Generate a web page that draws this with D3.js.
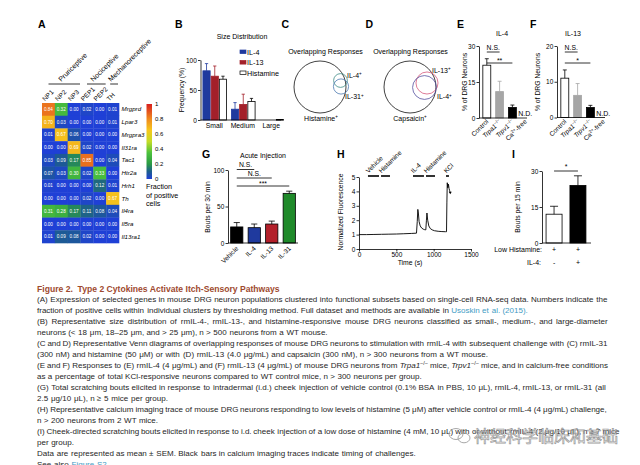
<!DOCTYPE html>
<html><head><meta charset="utf-8">
<script src="https://cdn.jsdelivr.net/npm/d3@7/dist/d3.min.js"></script>
<style>html,body{margin:0;padding:0;background:#fff;overflow:hidden}svg{display:block}</style>
</head><body><svg id="fig" width="640" height="465"></svg>
<script>
// ================= DATA =================
// Panel A heatmap
const hmClusters = ["NP1","NP2","NP3","PEP1","PEP2","TH"];
const hmGenes = ["Mrgprd","Lpar3","Mrgpra3","Il31ra","Tac1","Htr2a","Hrh1","Th","Il4ra","Il5ra","Il13ra1"];
const hmValues = [
  [0.84,0.32,0.00,0.02,0.00,0.01],
  [0.70,0.03,0.00,0.00,0.00,0.01],
  [0.01,0.67,0.06,0.00,0.00,0.00],
  [0.00,0.00,0.69,0.02,0.00,0.00],
  [0.03,0.09,0.17,0.85,0.00,0.04],
  [0.07,0.03,0.30,0.02,0.33,0.00],
  [0.01,0.00,0.00,0.00,0.12,0.01],
  [0.00,0.00,0.00,0.02,0.00,0.67],
  [0.31,0.28,0.17,0.11,0.08,0.04],
  [0.00,0.00,0.00,0.00,0.00,0.00],
  [0.01,0.09,0.08,0.02,0.00,0.00]
];
const hmGroupNames = ["Pruriceptive","Nociceptive","Mechanoreceptive"];
const hmGroupFirst = ["NP1","PEP1","TH"];
const hmGroupLast = ["NP3","PEP2","TH"];
const hmLegendTicks = [0,0.2,0.4,0.6,0.8,1];

// Panel B size distribution (%)
const sizeGroups = ["Small","Medium","Large"];
const sizeSeries = ["IL-4","IL-13","Histamine"];
const sizeIL4 = [82,18,0];
const sizeIL4Err = [12,11,0];
const sizeIL13 = [73,26,0];
const sizeIL13Err = [17,17,0];
const sizeHist = [68,31,1];
const sizeHistErr = [5,5,0];
const sizeTicks = [0,50,100];

// Panels C, D Venn (relative set sizes)
const vennCSets = ["Histamine","IL-4","IL-31"];
const vennCSizes = [100,7,8.5];
const vennDSets = ["Capsaicin","IL-13","IL-4"];
const vennDSizes = [100,18,21];

// Panels E, F responses (% of DRG neurons)
const respCats = ["Control","Trpa1","Trpv1","Ca-free"];
const il4Resp = [22,11,4.4,null];
const il4RespErr = [2.7,4.3,1.0,null];
const il13Resp = [11,6.2,2.8,null];
const il13RespErr = [2.3,3.3,0.6,null];
const il4Ticks = [0,15,30];
const il13Ticks = [0,10,20];

// Panel G acute injection
const injCats = ["Vehicle","IL-4","IL-13","IL-31"];
const injBouts = [22,21,26,68];
const injErr = [6,5,4,3];
const injTicks = [0,50,100];

// Panel H calcium trace
const traceTime = [0,100,200,300,400,500,600,700,770,780,788,795,805,820,840,860,880,895,903,910,920,935,955,980,1010,1060,1110,1160,1172,1177,1182,1190,1198,1206,1214,1222];
const traceF    = [1.0,1.0,1.01,1.02,1.03,1.04,1.06,1.08,1.1,1.9,2.75,2.5,1.9,1.6,1.45,1.38,1.34,1.33,2.0,2.5,2.0,1.6,1.42,1.33,1.27,1.23,1.21,1.2,1.2,3.2,4.6,4.25,4.5,4.2,4.05,3.9];
const challengeNames = ["Vehicle","Histamine","IL-4","Histamine","KCl"];
const challengeStart = [120,295,723,897,1165];
const challengeEnd   = [268,415,870,1018,1205];
const timeTicks = [0,500,1000,1500];
const fluoTicks = [0,1,2,3,4,5];

// Panel I
const histCats = ["Vehicle","IL-4"];
const histBouts = [12,24];
const histErr = [3.3,4];
const histTicks = [0,15,30];
const lowHistSign = ["+","+"];
const il4Sign = ["-","+"];

// ================= DRAWING =================
const FONT = "'Liberation Sans', Arial, Helvetica, sans-serif";
const svg = d3.select("#fig").attr("font-family", FONT);
svg.append("rect").attr("width",640).attr("height",465).attr("fill","#fff");

function txt(g, x, y, s, o={}) {
  const t = g.append("text").attr("x",x).attr("y",y).text(s)
    .attr("font-size", o.size||6.5).attr("fill", o.fill||"#000")
    .attr("text-anchor", o.anchor||"start");
  if (o.weight) t.attr("font-weight", o.weight);
  if (o.style) t.attr("font-style", o.style);
  if (o.rotate!=null) t.attr("transform", `rotate(${o.rotate},${x},${y})`);
  return t;
}
function styleAxis(a, size) {
  a.attr("font-family", FONT).attr("font-size", size||6.5);
  a.select(".domain").attr("stroke","#000").attr("stroke-width",0.8);
  a.selectAll(".tick line").attr("stroke","#000").attr("stroke-width",0.8);
  a.selectAll(".tick text").attr("fill","#000");
}
function leftAxis(g, scale, x, ticks, size) {
  const a = g.append("g").attr("transform",`translate(${x},0)`)
    .call(d3.axisLeft(scale).tickValues(ticks).tickFormat(d3.format("~g")).tickSize(2.5).tickSizeOuter(0).tickPadding(1.2));
  styleAxis(a,size); return a;
}
function hline(g, x1, x2, y, w, c) {
  g.append("line").attr("x1",x1).attr("x2",x2).attr("y1",y).attr("y2",y)
   .attr("stroke",c||"#000").attr("stroke-width",w||0.8);
}
function errBar(g, cx, y0, y1, capW, color) {
  g.append("line").attr("x1",cx).attr("x2",cx).attr("y1",y0).attr("y2",y1).attr("stroke",color).attr("stroke-width",0.8);
  hline(g, cx-capW/2, cx+capW/2, y1, 0.8, color);
}
function letter(x,y,t){ txt(svg,x,y,t,{size:10.5,weight:"bold"}); }
letter(38,27.5,"A"); letter(175,27.5,"B"); letter(281.5,27.5,"C"); letter(365.5,27.5,"D");
letter(457,27.5,"E"); letter(530,27.5,"F"); letter(202,158,"G"); letter(337,158,"H"); letter(512,158,"I");

// ---------- Panel A ----------
const gA = svg.append("g");
const hx = d3.scaleBand().domain(hmClusters).range([42,119]);
const hy = d3.scaleBand().domain(hmGenes).range([103,243]);
const hColor = d3.scaleLinear()
  .domain([0,0.1,0.2,0.35,0.5,0.65,0.8,1])
  .range(["#1f40d6","#1d5d8e","#2a9a45","#4cc23c","#c4dc28","#f6c81c","#f08a1e","#d81e1e"]).clamp(true);
const cells = hmGenes.flatMap((gene,i)=>hmClusters.map((c,j)=>({gene,c,v:hmValues[i][j]})));
gA.selectAll("rect.cell").data(cells).join("rect").attr("class","cell")
  .attr("x",d=>hx(d.c)).attr("y",d=>hy(d.gene))
  .attr("width",hx.bandwidth()+0.3).attr("height",hy.bandwidth()+0.3)
  .attr("fill",d=>hColor(d.v));
gA.selectAll("text.val").data(cells).join("text").attr("class","val")
  .attr("x",d=>hx(d.c)+hx.bandwidth()/2).attr("y",d=>hy(d.gene)+hy.bandwidth()/2+1.6)
  .attr("text-anchor","middle").attr("font-size",4.6).attr("fill","#fff")
  .text(d=>d.v.toFixed(2));
gA.selectAll("text.gene").data(hmGenes).join("text").attr("class","gene")
  .attr("x",121.5).attr("y",d=>hy(d)+hy.bandwidth()/2+2.1)
  .attr("font-size",6.2).attr("font-style","italic").text(d=>d);
hmClusters.forEach(c=>txt(gA, hx(c)+3, 101.5, c, {size:6.5, rotate:-45}));
hmGroupNames.forEach((nm,i)=>{
  const x1 = hx(hmGroupFirst[i])+ (i===2?4:6.5), x2 = hx(hmGroupLast[i])+hx.bandwidth()-(i===2?1:0.5);
  hline(gA,x1,x2,84,0.8);
  txt(gA,(x1+x2)/2-3,82,nm,{size:7,rotate:-45});
});
// colour bar
const cbY = d3.scaleLinear().domain([0,1]).range([179,104]);
const defs = svg.append("defs");
const grad = defs.append("linearGradient").attr("id","cbgrad").attr("x1",0).attr("x2",0).attr("y1",1).attr("y2",0);
for (let k=0;k<=20;k++){ grad.append("stop").attr("offset",k/20).attr("stop-color",hColor(k/20)); }
gA.append("rect").attr("x",146.5).attr("y",cbY(1)).attr("width",5.5).attr("height",cbY(0)-cbY(1)).attr("fill","url(#cbgrad)");
hmLegendTicks.forEach(t=>txt(gA,155,cbY(t)+2.2,String(t),{size:6}));
["Fraction","of positive","cells"].forEach((s,i)=>txt(gA,146,189+i*8.5,s,{size:7.2}));

// ---------- Panel B ----------
const gB = svg.append("g");
const bY = d3.scaleLinear().domain([0,100]).range([120,60]);
const bX0 = d3.scaleBand().domain(sizeGroups).range([200.5,286]).paddingInner(0.1).paddingOuter(0.05);
const bX1 = d3.scaleBand().domain(sizeSeries).range([0,bX0.bandwidth()]).padding(0.12);
const sizeFill = ["#1f3a9e","#a3202a","#ffffff"];
const sizeStroke = ["#1f3a9e","#a3202a","#000000"];
const sizeVals = [sizeIL4,sizeIL13,sizeHist];
const sizeErrs = [sizeIL4Err,sizeIL13Err,sizeHistErr];
sizeSeries.forEach((s,k)=>sizeGroups.forEach((grp,i)=>{
  const v = sizeVals[k][i], e = sizeErrs[k][i];
  const x = bX0(grp)+bX1(s), w = bX1.bandwidth();
  if (v>0) gB.append("rect").attr("x",x).attr("y",bY(v)).attr("width",w).attr("height",Math.max(0.8,bY(0)-bY(v)))
    .attr("fill",sizeFill[k]).attr("stroke",sizeStroke[k]).attr("stroke-width",0.8);
  if (e>0) errBar(gB,x+w/2,bY(v),bY(v+e),w*0.45,sizeStroke[k]);
}));
leftAxis(gB,bY,200.5,sizeTicks);
hline(gB,200.5,281,120);
sizeGroups.forEach(grp=>txt(gB,bX0(grp)+bX0.bandwidth()/2-0.5,127.5,grp,{size:6.8,anchor:"middle"}));
txt(gB,184,90,"Frequency (%)",{size:6.8,anchor:"middle",rotate:-90});
txt(gB,242,38.5,"Size Distribution",{size:7,anchor:"middle"});
sizeSeries.forEach((s,k)=>{
  gB.append("rect").attr("x",240).attr("y",50+k*10.5).attr("width",6).attr("height",3.6)
    .attr("fill",sizeFill[k]).attr("stroke",sizeStroke[k]).attr("stroke-width",0.7);
  txt(gB,247,54.5+k*10.5,s,{size:7.2});
});

// ---------- Panels C, D ----------
const rScale = d3.scaleSqrt().domain([0,100]).range([0,26]);
function supLabel(g,x,y,s,anchor){
  const t = g.append("text").attr("x",x).attr("y",y).attr("font-size",7).attr("text-anchor",anchor||"start");
  t.append("tspan").text(s);
  t.append("tspan").attr("dy",-2.5).attr("font-size",4.5).text("+");
  return t;
}
function venn(g, title, titleX, cx, cy, sets, sizes, colors, offsets, labelPos, anchors){
  txt(g,titleX,53.5,title,{size:7,anchor:"middle"});
  sets.forEach((s,i)=>{
    g.append("circle").attr("cx",cx+offsets[i][0]).attr("cy",cy+offsets[i][1]).attr("r",rScale(sizes[i]))
      .attr("fill","none").attr("stroke",colors[i]).attr("stroke-width",0.8);
    supLabel(g,labelPos[i][0],labelPos[i][1],s,anchors[i]);
  });
}
const gC = svg.append("g");
venn(gC,"Overlapping Responses",325.5,320,87,vennCSets,vennCSizes,["#111","#3f8c87","#4a78b0"],
  [[0,0],[20.5,-6.5],[21,-0.5]],[[321,120.5],[347,77.5],[345,99]],["middle","start","start"]);
const gD = svg.append("g");
venn(gD,"Overlapping Responses",410.5,410,87,vennDSets,vennDSizes,["#111","#d65a7c","#54509e"],
  [[0,0],[17,-4],[14.5,0.5]],[[410,120.5],[432,72.5],[437,99]],["middle","start","start"]);

// ---------- Panels E, F ----------
function italicSupLabel(g,x,y,main,sup,italic,after){
  const t = g.append("text").attr("font-size",6.5).attr("text-anchor","end")
    .attr("transform",`translate(${x},${y}) rotate(-45)`);
  t.append("tspan").attr("font-style",italic?"italic":"normal").text(main);
  if (sup) t.append("tspan").attr("dy",-2.2).attr("font-size",4.5).text(sup);
  if (after) t.append("tspan").attr("dy",2.2).text(after);
  return t;
}
function respPanel(g, o){
  const y = d3.scaleLinear().domain([0,o.max]).range([o.y0,46]);
  const x = d3.scaleBand().domain(respCats).range([o.ax, o.ax+54]).paddingInner(0.38).paddingOuter(0.3);
  const fills = ["#ffffff","#a6a6a6","#000000"], strokes = ["#000","#a6a6a6","#000"];
  o.vals.forEach((v,i)=>{
    const c = respCats[i], bx = x(c), w = x.bandwidth();
    if (v==null){ txt(g,bx+w/2,115.5,"N.D.",{size:7,anchor:"middle"}); return; }
    g.append("rect").attr("x",bx).attr("y",y(v)).attr("width",w).attr("height",y(0)-y(v))
      .attr("fill",fills[i]).attr("stroke",strokes[i]).attr("stroke-width",0.8);
    errBar(g,bx+w/2,y(v),y(v+o.errs[i]),w*0.5,strokes[i]);
  });
  leftAxis(g,y,o.ax,o.ticks);
  hline(g,o.ax,o.ax+48,o.y0);
  const cx = c=>x(c)+x.bandwidth()/2;
  hline(g,cx("Control"),cx("Trpa1"),52);
  txt(g,(cx("Control")+cx("Trpa1"))/2,50.3,"N.S.",{size:6.8,anchor:"middle"});
  hline(g,cx("Control"),cx("Trpv1"),63);
  txt(g,(cx("Control")+cx("Trpv1"))/2,63,o.sig,{size:7,anchor:"middle"});
  txt(g,o.titleX,35.5,o.title,{size:7,anchor:"middle"});
  txt(g,o.ylx,82,"% of DRG Neurons",{size:6.8,anchor:"middle",rotate:-90});
  italicSupLabel(g,cx("Control")+2,122,"Control",null,false);
  italicSupLabel(g,cx("Trpa1")+2,122,"Trpa1","−/−",true);
  italicSupLabel(g,cx("Trpv1")+2,122,"Trpv1","−/−",true);
  italicSupLabel(g,cx("Ca-free")+2,122,"Ca","2+",false,"-free");
}
respPanel(svg.append("g"),{ax:479,y0:118,max:30,ticks:il4Ticks,vals:il4Resp,errs:il4RespErr,sig:"**",title:"IL-4",titleX:502,ylx:467});
respPanel(svg.append("g"),{ax:557,y0:117.5,max:20,ticks:il13Ticks,vals:il13Resp,errs:il13RespErr,sig:"*",title:"IL-13",titleX:573,ylx:540});

// ---------- Panel G ----------
const gG = svg.append("g");
const gY = d3.scaleLinear().domain([0,100]).range([243,170]);
const gX = d3.scaleBand().domain(injCats).range([228,298]).paddingInner(0.3).paddingOuter(0.15);
const injFill = ["#000000","#1f3a9e","#b3202a","#1f8a2a"];
injCats.forEach((c,i)=>{
  const bx = gX(c), w = gX.bandwidth();
  gG.append("rect").attr("x",bx).attr("y",gY(injBouts[i])).attr("width",w).attr("height",gY(0)-gY(injBouts[i]))
    .attr("fill",injFill[i]).attr("stroke","#000").attr("stroke-width",0.8);
  errBar(gG,bx+w/2,gY(injBouts[i]),gY(injBouts[i]+injErr[i]),w*0.5,"#000");
  gG.append("text").attr("font-size",6.5).attr("text-anchor","end")
    .attr("transform",`translate(${bx+w/2+2},${249}) rotate(-45)`).text(c);
});
leftAxis(gG,gY,228,injTicks);
hline(gG,228,298,243);
const gcx = c=>gX(c)+gX.bandwidth()/2;
[["IL-4","N.S.",169.5,167],["IL-13","N.S.",178,175.8],["IL-31","***",186,186]].forEach(([c,l,ly,ty])=>{
  hline(gG,gcx("Vehicle"),gcx(c),ly);
  txt(gG,(gcx("Vehicle")+gcx(c))/2,ty,l,{size:6.8,anchor:"middle"});
});
txt(gG,263,157.5,"Acute Injection",{size:7,anchor:"middle"});
txt(gG,210,207,"Bouts per 30 min",{size:6.8,anchor:"middle",rotate:-90});

// ---------- Panel H ----------
const gH = svg.append("g");
const tX = d3.scaleLinear().domain([0,1500]).range([359,471]);
const fY = d3.scaleLinear().domain([0,5]).range([249,177]);
leftAxis(gH,fY,359,fluoTicks);
const bAx = gH.append("g").attr("transform","translate(0,249)")
  .call(d3.axisBottom(tX).tickValues(timeTicks).tickFormat(d3.format("~g")).tickSize(2.5).tickSizeOuter(0).tickPadding(1.2));
styleAxis(bAx);
const tracePts = traceTime.map((t,i)=>[t,traceF[i]]);
gH.append("path").attr("d",d3.line().x(d=>tX(d[0])).y(d=>fY(d[1]))(tracePts))
  .attr("fill","none").attr("stroke","#000").attr("stroke-width",0.9).attr("stroke-linejoin","round");
const lastPt = tracePts[tracePts.length-1];
gH.append("path").attr("d",`M${tX(lastPt[0])-1.5},${fY(lastPt[1])-1}L${tX(lastPt[0])+1.5},${fY(lastPt[1])-1}L${tX(lastPt[0])},${fY(lastPt[1])+1.5}Z`).attr("fill","#000");
challengeNames.forEach((n,i)=>{
  hline(gH,tX(challengeStart[i]),tX(challengeEnd[i]),176,1.6);
  txt(gH,tX(challengeStart[i])+0.5,173.5,n,{size:6.5,rotate:-45});
});
txt(gH,343,212,"Normalized Fluorescence",{size:6.8,anchor:"middle",rotate:-90});
txt(gH,410,264.5,"Time (s)",{size:6.8,anchor:"middle"});

// ---------- Panel I ----------
const gI = svg.append("g");
const iY = d3.scaleLinear().domain([0,30]).range([243,171]);
const iX = d3.scaleBand().domain(histCats).range([542,590]).paddingInner(0.33).paddingOuter(0.17);
const iFill = ["#ffffff","#000000"];
histCats.forEach((c,i)=>{
  const bx = iX(c), w = iX.bandwidth();
  gI.append("rect").attr("x",bx).attr("y",iY(histBouts[i])).attr("width",w).attr("height",iY(0)-iY(histBouts[i]))
    .attr("fill",iFill[i]).attr("stroke","#000").attr("stroke-width",0.8);
  errBar(gI,bx+w/2,iY(histBouts[i]),iY(histBouts[i]+histErr[i]),w*0.5,"#000");
  txt(gI,bx+w/2,251.5,lowHistSign[i],{size:7,anchor:"middle"});
  txt(gI,bx+w/2,264.5,il4Sign[i],{size:7,anchor:"middle"});
});
leftAxis(gI,iY,542,histTicks);
hline(gI,542,591,243);
const icx = c=>iX(c)+iX.bandwidth()/2;
hline(gI,icx(histCats[0]),icx(histCats[1]),171);
txt(gI,(icx(histCats[0])+icx(histCats[1]))/2,169,"*",{size:7,anchor:"middle"});
txt(gI,542,251.5,"Low Histamine:",{size:7,anchor:"end"});
txt(gI,541,264.5,"IL-4:",{size:7,anchor:"end"});
txt(gI,520,207,"Bouts per 15 min",{size:6.8,anchor:"middle",rotate:-90});

// ---------- Caption ----------
const capTitle = "Figure 2.  Type 2 Cytokines Activate Itch-Sensory Pathways";
// [segments, justify target right edge (0 = not justified)]
const capLines = [
 [[["(A) Expression of selected genes in mouse DRG neuron populations clustered into functional subsets based on single-cell RNA-seq data. Numbers indicate the",""]],608],
 [[["fraction of positive cells within individual clusters by thresholding method. Full dataset and methods are available in ",""],["Usoskin et al. (2015).","l"]],0],
 [[["(B) Representative size distribution of rmIL-4-, rmIL-13-, and histamine-responsive mouse DRG neurons classified as small-, medium-, and large-diameter",""]],608],
 [[["neurons (< 18 μm, 18–25 μm, and > 25 μm), n > 500 neurons from a WT mouse.",""]],0],
 [[["(C and D) Representative Venn diagrams of overlapping responses of mouse DRG neurons to stimulation with rmIL-4 with subsequent challenge with (C) rmIL-31",""]],608],
 [[["(300 nM) and histamine (50 μM) or with (D) rmIL-13 (4.0 μg/mL) and capsaicin (300 nM), n > 300 neurons from a WT mouse.",""]],0],
 [[["(E and F) Responses to (E) rmIL-4 (4 μg/mL) and (F) rmIL-13 (4 μg/mL) of mouse DRG neurons from ",""],["Trpa1","i"],["−/−","s"],[" mice, ",""],["Trpv1","i"],["−/−","s"],[" mice, and in calcium-free conditions",""]],608],
 [[["as a percentage of total KCl-responsive neurons compared to WT control mice, n > 300 neurons per group.",""]],0],
 [[["(G) Total scratching bouts elicited in response to intradermal (i.d.) cheek injection of vehicle control (0.1% BSA in PBS, 10 μL), rmIL-4, rmIL-13, or rmIL-31 (all",""]],606],
 [[["2.5 μg/10 μL), n ≥ 5 mice per group.",""]],0],
 [[["(H) Representative calcium imaging trace of mouse DRG neurons responding to low levels of histamine (5 μM) after vehicle control or rmIL-4 (4 μg/mL) challenge,",""]],606],
 [[["n > 200 neurons from 2 WT mice.",""]],0],
 [[["(I) Cheek-directed scratching bouts elicited in response to i.d. cheek injection of a low dose of histamine (4 mM, 10 μL) with or without rmIL-4 (2 μg/10 μL), n ≥ 7 mice",""]],620],
 [[["per group.",""]],0],
 [[["Data are represented as mean ± SEM. Black bars in calcium imaging traces indicate timing of challenges.",""]],0],
 [[["See also ",""],["Figure S2","l"],[".",""]],0]
];
const gCap = svg.append("g");
const tTitle = txt(gCap,37,291.8,capTitle,{size:10,weight:"bold",fill:"#9e4a2f"}).style("white-space","pre");
const tw = tTitle.node().getComputedTextLength();
tTitle.attr("font-size",10*243/tw);

function toWords(segs){
  const words = [[]];
  segs.forEach(([s,st])=>{
    const parts = s.split(" ");
    parts.forEach((p,k)=>{
      if (k>0) words.push([]);
      if (p.length) words[words.length-1].push([p,st]);
    });
  });
  return words.filter(w=>w.length);
}
function wordText(g, x, y, pieces, fs){
  const t = g.append("text").attr("x",x).attr("y",y).attr("font-size",fs).attr("fill","#262626");
  let raised = false;
  pieces.forEach(([s,st])=>{
    const sp = t.append("tspan").text(s);
    if (st==="i") sp.attr("font-style","italic");
    if (st==="l") sp.attr("fill","#3f9cc4");
    if (st==="s") { sp.attr("font-size",fs*0.68).attr("dy",-fs*0.38); raised = true; }
    else if (raised) { sp.attr("dy",fs*0.38); raised = false; }
  });
  return t;
}
const probe = gCap.append("text").attr("font-size",10).text(capLines[0][0][0][0]);
const fsBody = 10*566/probe.node().getComputedTextLength();
probe.remove();
const spProbe = gCap.append("text").attr("font-size",fsBody).text("a a");
const spProbe2 = gCap.append("text").attr("font-size",fsBody).text("aa");
const spaceW = spProbe.node().getComputedTextLength()-spProbe2.node().getComputedTextLength();
spProbe.remove(); spProbe2.remove();
capLines.forEach(([segs,right],i)=>{
  const y = 301.8+i*11.04;
  const words = toWords(segs);
  const nodes = words.map(w=>wordText(gCap,0,y,w,fsBody));
  const widths = nodes.map(n=>n.node().getBBox().width);
  const total = d3.sum(widths);
  let gap = right && words.length>1 ? (right-37-total)/(words.length-1) : spaceW;
  gap = Math.max(gap, spaceW*0.75);
  let x = 37;
  nodes.forEach((n,k)=>{ n.attr("x",x); x += widths[k]+gap; });
});
// watermark
const gW = svg.append("g").attr("opacity",0.85);
gW.append("ellipse").attr("cx",456).attr("cy",434).attr("rx",7).attr("ry",5.5).attr("fill","none").attr("stroke","#9a9a9a").attr("stroke-width",1);
gW.append("ellipse").attr("cx",464).attr("cy",438).attr("rx",6).attr("ry",4.8).attr("fill","none").attr("stroke","#9a9a9a").attr("stroke-width",1);
gW.append("text").attr("x",474).attr("y",442).attr("font-family","'Noto Sans CJK SC', sans-serif").attr("font-size",16)
  .attr("fill","rgba(255,255,255,0.55)").attr("stroke","#8a8a8a").attr("stroke-width",0.7).text("神经科学临床和基础");
</script></body></html>
